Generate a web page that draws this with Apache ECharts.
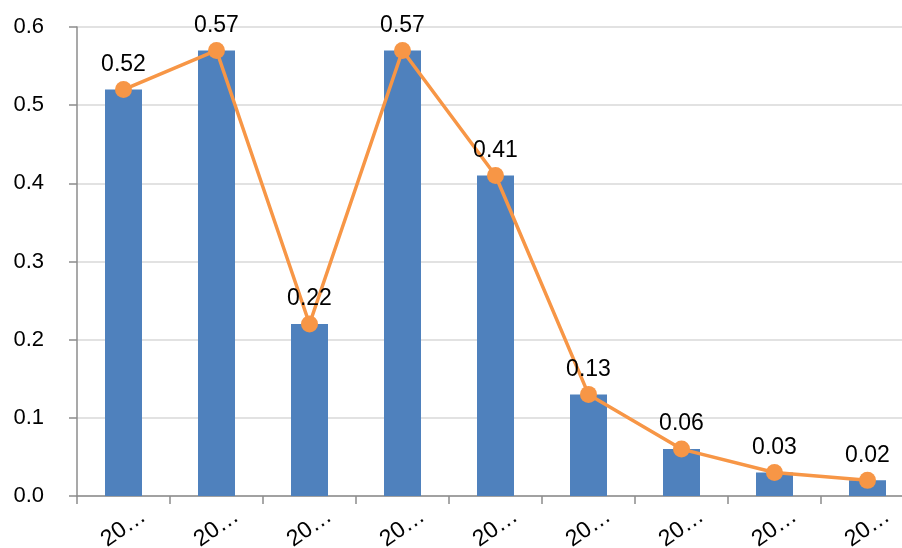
<!DOCTYPE html>
<html>
<head>
<meta charset="utf-8">
<script src="https://cdn.jsdelivr.net/npm/echarts@6/dist/echarts.min.js"></script>
<style>
  html, body { margin: 0; padding: 0; background: #ffffff; }
  #chart { width: 902px; height: 548px; }
</style>
</head>
<body>
<div id="chart"></div>
<script>
// Category labels (shown truncated on the axis)
const categories = ['20…', '20…', '20…', '20…', '20…', '20…', '20…', '20…', '20…'];
// Column values
const barValues = [0.52, 0.57, 0.22, 0.57, 0.41, 0.13, 0.06, 0.03, 0.02];
// Line values (same figures, labelled)
const lineValues = [0.52, 0.57, 0.22, 0.57, 0.41, 0.13, 0.06, 0.03, 0.02];

const FONT = 'Liberation Sans';

const chart = echarts.init(document.getElementById('chart'), null, { renderer: 'canvas' });
chart.setOption({
  animation: false,
  backgroundColor: '#ffffff',
  textStyle: { fontFamily: FONT },
  grid: { left: 77, right: -12, top: 27, bottom: 52, containLabel: false, outerBoundsMode: 'none' },
  xAxis: {
    type: 'category',
    data: categories,
    boundaryGap: true,
    axisLine: { show: true, lineStyle: { color: '#8c8c8c', width: 1.5 } },
    axisTick: { show: true, length: 8, alignWithLabel: false, lineStyle: { color: '#8c8c8c', width: 1.5 } },
    axisLabel: {
      interval: 0,
      rotate: 35,
      margin: 32,
      align: 'center',
      verticalAlign: 'middle',
      color: '#000000',
      fontFamily: FONT,
      fontSize: 23
    },
    splitLine: { show: false }
  },
  yAxis: {
    type: 'value',
    min: 0,
    max: 0.6,
    interval: 0.1,
    axisLine: { show: true, lineStyle: { color: '#8c8c8c', width: 1.5 } },
    axisTick: { show: true, length: 8, lineStyle: { color: '#8c8c8c', width: 1.5 } },
    axisLabel: {
      margin: 33,
      color: '#000000',
      fontFamily: FONT,
      fontSize: 22,
      formatter: v => v.toFixed(1)
    },
    splitLine: { show: true, lineStyle: { color: '#d9d9d9', width: 1.5 } }
  },
  series: [
    {
      type: 'bar',
      data: barValues,
      barWidth: 37,
      itemStyle: { color: '#4f81bd' },
      z: 2
    },
    {
      type: 'line',
      data: lineValues,
      symbol: 'circle',
      symbolSize: 17,
      lineStyle: { color: '#f79646', width: 3.5 },
      itemStyle: { color: '#f79646' },
      label: {
        show: true,
        position: 'top',
        distance: 5,
        color: '#000000',
        fontFamily: FONT,
        fontSize: 23
      },
      z: 3
    }
  ]
});
</script>
</body>
</html>
